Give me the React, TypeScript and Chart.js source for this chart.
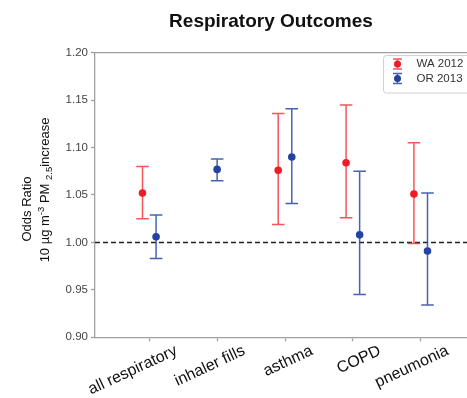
import React, { useEffect, useRef } from "react";
import { Chart, registerables } from "chart.js";

Chart.register(...registerables);

const categories = ["all respiratory", "inhaler fills", "asthma", "COPD", "pneumonia"];
const seriesNames = ["WA 2012", "OR 2013"];
const waOR = [1.052, null, 1.076, 1.084, 1.051];
const waLow = [1.025, null, 1.019, 1.026, 0.999];
const waHigh = [1.080, null, 1.136, 1.145, 1.105];
const orOR = [1.006, 1.077, 1.090, 1.008, 0.991];
const orLow = [0.983, 1.065, 1.041, 0.945, 0.934];
const orHigh = [1.029, 1.088, 1.141, 1.075, 1.052];
const yTicks = [0.9, 0.95, 1.0, 1.05, 1.1, 1.15, 1.2];
const referenceValue = 1.0;

const FONT = "'Liberation Sans', Arial, Helvetica, sans-serif";
const RED = "#ee1d25";
const RED_LINE = "rgba(240,40,48,0.78)";
const BLUE = "#2443a0";
const BLUE_LINE = "rgba(40,70,165,0.85)";
const SPINE = "#a0a0a0";
const OFFSET = 0.1;

const lows = [waLow, orLow];
const highs = [waHigh, orHigh];
const mids = [waOR, orOR];
const lineColors = [RED_LINE, BLUE_LINE];
const dotColors = [RED, BLUE];

function xFor(series: number, i: number) {
  const other = mids[1 - series][i];
  if (other === null) return i;
  return i + (series === 0 ? -OFFSET : OFFSET);
}

function pointsFor(series: number) {
  const out: { x: number; y: number }[] = [];
  mids[series].forEach((v, i) => {
    if (v !== null) out.push({ x: xFor(series, i), y: v as number });
  });
  return out;
}

const overlayPlugin = {
  id: "overlay",
  beforeDatasetsDraw(chart: any) {
    const { ctx, chartArea } = chart;
    const xs = chart.scales.x;
    const ys = chart.scales.y;
    ctx.save();
    // top spine
    ctx.strokeStyle = SPINE;
    ctx.lineWidth = 1.3;
    ctx.beginPath();
    ctx.moveTo(chartArea.left, chartArea.top);
    ctx.lineTo(chartArea.right, chartArea.top);
    ctx.stroke();
    // reference dashed line
    const yr = ys.getPixelForValue(referenceValue);
    ctx.strokeStyle = "#222";
    ctx.lineWidth = 1.5;
    ctx.setLineDash([5, 3]);
    ctx.beginPath();
    ctx.moveTo(chartArea.left, yr);
    ctx.lineTo(chartArea.right, yr);
    ctx.stroke();
    ctx.setLineDash([]);
    // error bars
    const cap = 6.3;
    for (let s = 0; s < 2; s++) {
      ctx.strokeStyle = lineColors[s];
      ctx.lineWidth = 1.5;
      mids[s].forEach((v, i) => {
        if (v === null) return;
        const px = xs.getPixelForValue(xFor(s, i));
        const lo = ys.getPixelForValue(lows[s][i] as number);
        const hi = ys.getPixelForValue(highs[s][i] as number);
        ctx.beginPath();
        ctx.moveTo(px, lo);
        ctx.lineTo(px, hi);
        ctx.moveTo(px - cap, lo);
        ctx.lineTo(px + cap, lo);
        ctx.moveTo(px - cap, hi);
        ctx.lineTo(px + cap, hi);
        ctx.stroke();
      });
    }
    ctx.restore();
  },
  afterDraw(chart: any) {
    const { ctx } = chart;
    ctx.save();
    // title
    ctx.fillStyle = "#111";
    ctx.font = `bold 19px ${FONT}`;
    ctx.textAlign = "center";
    ctx.textBaseline = "alphabetic";
    ctx.fillText("Respiratory Outcomes", 271, 26.5);

    // y axis title
    ctx.fillStyle = "#111";
    ctx.save();
    ctx.translate(31, 209);
    ctx.rotate(-Math.PI / 2);
    ctx.font = `13px ${FONT}`;
    ctx.textAlign = "center";
    ctx.fillText("Odds Ratio", 0, 0);
    ctx.restore();

    ctx.save();
    ctx.translate(49, 190);
    ctx.rotate(-Math.PI / 2);
    const parts: { t: string; size: number; dy: number }[] = [
      { t: "10 µg m", size: 13, dy: 0 },
      { t: "-3", size: 9.5, dy: -5 },
      { t: " PM ", size: 13, dy: 0 },
      { t: "2.5", size: 9.5, dy: 3 },
      { t: "increase", size: 13, dy: 0 },
    ];
    let total = 0;
    for (const p of parts) {
      ctx.font = `${p.size}px ${FONT}`;
      total += ctx.measureText(p.t).width;
    }
    let u = -total / 2;
    ctx.textAlign = "left";
    for (const p of parts) {
      ctx.font = `${p.size}px ${FONT}`;
      ctx.fillText(p.t, u, p.dy);
      u += ctx.measureText(p.t).width;
    }
    ctx.restore();

    // legend
    const bx = 383.5, by = 55.5, bw = 120, bh = 37.5, r = 3;
    ctx.fillStyle = "rgba(255,255,255,0.85)";
    ctx.strokeStyle = "#d0d0d0";
    ctx.lineWidth = 1;
    ctx.beginPath();
    ctx.moveTo(bx + r, by);
    ctx.lineTo(bx + bw, by);
    ctx.lineTo(bx + bw, by + bh);
    ctx.lineTo(bx + r, by + bh);
    ctx.arcTo(bx, by + bh, bx, by + bh - r, r);
    ctx.lineTo(bx, by + r);
    ctx.arcTo(bx, by, bx + r, by, r);
    ctx.closePath();
    ctx.fill();
    ctx.stroke();
    const rowsY = [64, 78.5];
    for (let s = 0; s < 2; s++) {
      const cy = rowsY[s];
      const cx = 397.5;
      ctx.strokeStyle = lineColors[s];
      ctx.lineWidth = 1.5;
      ctx.beginPath();
      ctx.moveTo(cx, cy - 5);
      ctx.lineTo(cx, cy + 5);
      ctx.moveTo(cx - 4.5, cy - 5);
      ctx.lineTo(cx + 4.5, cy - 5);
      ctx.moveTo(cx - 4.5, cy + 5);
      ctx.lineTo(cx + 4.5, cy + 5);
      ctx.stroke();
      ctx.fillStyle = dotColors[s];
      ctx.beginPath();
      ctx.arc(cx, cy, 3.5, 0, Math.PI * 2);
      ctx.fill();
      ctx.fillStyle = "#333";
      ctx.font = `11.5px ${FONT}`;
      ctx.textAlign = "left";
      ctx.textBaseline = "middle";
      ctx.fillText(seriesNames[s], 416.5, cy);
    }
    ctx.restore();
  },
};

export default function App() {
  const ref = useRef<HTMLCanvasElement | null>(null);
  useEffect(() => {
    if (!ref.current) return;
    const chart = new Chart(ref.current, {
      type: "scatter",
      data: {
        datasets: [
          {
            label: seriesNames[0],
            data: pointsFor(0),
            backgroundColor: RED,
            borderWidth: 0,
            pointRadius: 3.8,
          },
          {
            label: seriesNames[1],
            data: pointsFor(1),
            backgroundColor: BLUE,
            borderWidth: 0,
            pointRadius: 3.8,
          },
        ],
      },
      options: {
        animation: false,
        responsive: false,
        layout: { padding: { top: 52.7, right: 25, left: 0, bottom: 0 } },
        plugins: {
          legend: { display: false },
          title: { display: false },
          tooltip: { enabled: false },
        },
        scales: {
          x: {
            type: "linear",
            min: -0.8,
            max: 4.8,
            afterBuildTicks: (scale: any) => {
              scale.ticks = categories.map((_, i) => ({ value: i }));
            },
            afterFit: (scale: any) => {
              scale.height = 398 - 337.3;
            },
            grid: {
              drawOnChartArea: false,
              drawTicks: true,
              tickLength: 4,
              tickColor: SPINE,
              tickWidth: 1.3,
            },
            border: { display: true, color: SPINE, width: 1.3 },
            ticks: {
              autoSkip: false,
              minRotation: 25,
              maxRotation: 25,
              padding: 0,
              labelOffset: 27,
              color: "#111",
              font: { family: FONT, size: 16 },
              callback: (v: any) => categories[Math.round(Number(v))] ?? "",
            },
          },
          y: {
            type: "linear",
            min: 0.9,
            max: 1.2,
            afterBuildTicks: (scale: any) => {
              scale.ticks = yTicks.map((v) => ({ value: v }));
            },
            afterFit: (scale: any) => {
              scale.width = 95;
            },
            grid: {
              drawOnChartArea: false,
              drawTicks: true,
              tickLength: 4,
              tickColor: SPINE,
              tickWidth: 1.3,
            },
            border: { display: true, color: SPINE, width: 1.3 },
            ticks: {
              padding: 3,
              color: "#444",
              font: { family: FONT, size: 11.5 },
              callback: (v: any) => Number(v).toFixed(2),
            },
          },
        },
      },
      plugins: [overlayPlugin],
    });
    return () => chart.destroy();
  }, []);
  return (
    <div
      style={{
        position: "absolute",
        left: 0,
        top: 0,
        width: 467,
        height: 398,
        overflow: "hidden",
        background: "#fff",
      }}
    >
      <canvas ref={ref} width={500} height={398} style={{ width: 500, height: 398, display: "block" }} />
    </div>
  );
}
